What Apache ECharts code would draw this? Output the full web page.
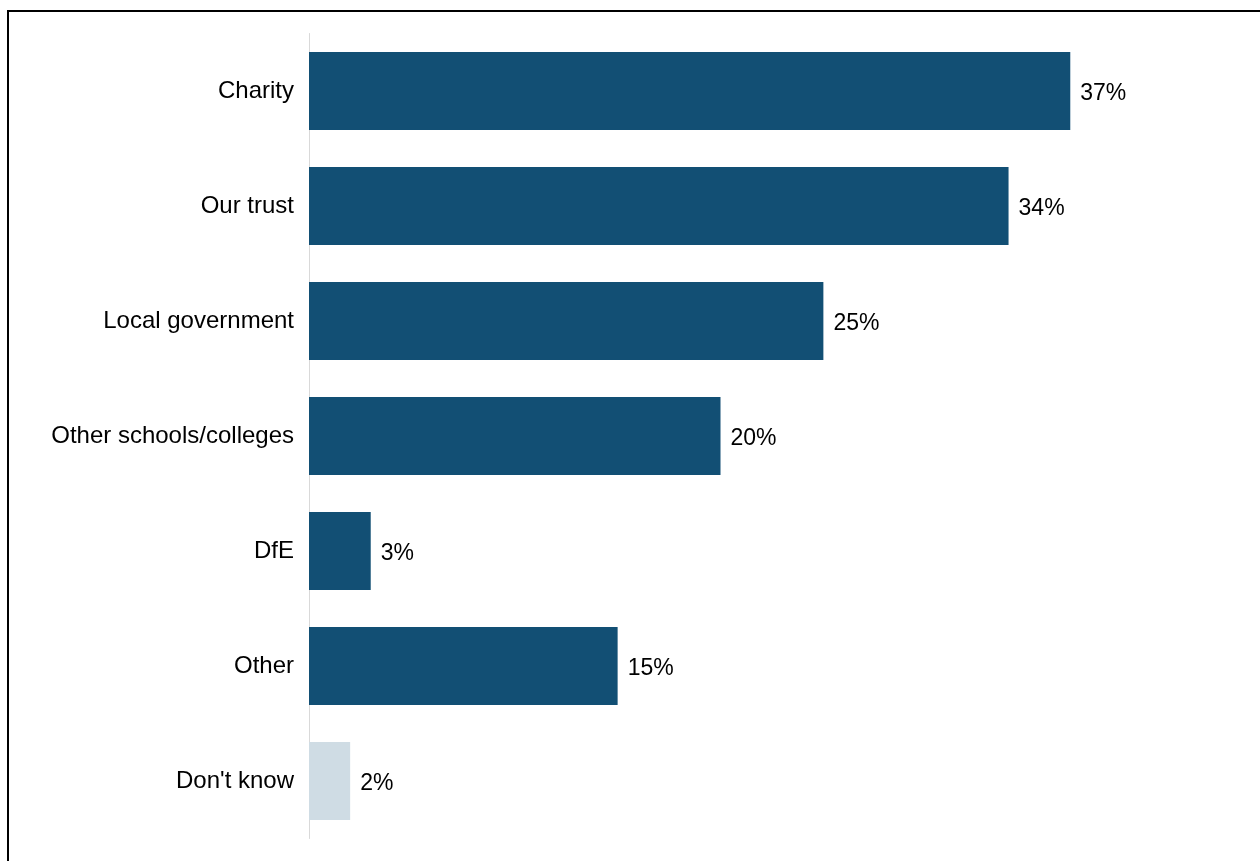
<!DOCTYPE html>
<html>
<head>
<meta charset="utf-8">
<script src="https://cdn.jsdelivr.net/npm/echarts@6/dist/echarts.min.js"></script>
<style>
  html, body { margin: 0; padding: 0; background: #ffffff; }
  #chart { width: 1260px; height: 861px; }
</style>
</head>
<body>
<div id="chart"></div>
<script>
// Funding sources, top to bottom
const categories = ['Charity', 'Our trust', 'Local government', 'Other schools/colleges', 'DfE', 'Other', "Don't know"];
const values = [37, 34, 25, 20, 3, 15, 2];
const barColors = ['#124F74', '#124F74', '#124F74', '#124F74', '#124F74', '#124F74', '#CFDCE4'];

const chart = echarts.init(document.getElementById('chart'), null, { renderer: 'canvas' });

const fontFamily = '"Liberation Sans", Arial, sans-serif';

chart.setOption({
  backgroundColor: '#ffffff',
  animation: false,
  graphic: [{
    type: 'rect',
    shape: { x: 8, y: 11, width: 1270, height: 900 },
    style: { fill: 'none', stroke: '#000000', lineWidth: 2 },
    silent: true,
    z: 100
  }],
  grid: { left: 309, top: 33.5, width: 823, height: 805, containLabel: false },
  xAxis: {
    type: 'value',
    min: 0,
    max: 40,
    show: false
  },
  yAxis: {
    type: 'category',
    data: categories,
    inverse: true,
    axisLine: { show: true, lineStyle: { color: '#D9D9D9', width: 1 } },
    axisTick: { show: false },
    axisLabel: {
      color: '#000000',
      fontFamily: fontFamily,
      fontSize: 24,
      margin: 15,
      padding: [2, 0, 0, 0]
    },
    splitLine: { show: false }
  },
  series: [{
    type: 'bar',
    data: values.map((v, i) => ({ value: v, itemStyle: { color: barColors[i] } })),
    barCategoryGap: '32%',
    label: {
      show: true,
      position: 'right',
      distance: 10,
      offset: [0, 3],
      formatter: p => p.value + '%',
      color: '#000000',
      fontFamily: fontFamily,
      fontSize: 23
    }
  }]
});
</script>
</body>
</html>
